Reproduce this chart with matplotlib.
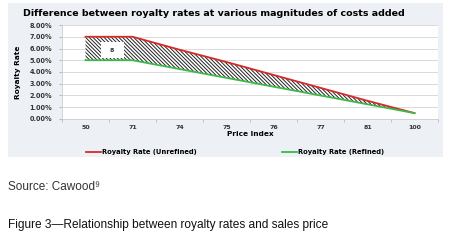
import numpy as np
import matplotlib.pyplot as plt
from matplotlib.patches import Rectangle

# data
price_index = ['50', '71', '74', '75', '76', '77', '81', '100']
unrefined = [7.0, 7.0, 5.9, 4.85, 3.75, 2.65, 1.55, 0.5]
refined = [5.0, 5.0, 4.25, 3.5, 2.75, 2.0, 1.25, 0.5]
y_ticks = [0, 1, 2, 3, 4, 5, 6, 7, 8]
box_label = '8'

plt.rcParams['hatch.linewidth'] = 0.7

fig = plt.figure(figsize=(4.61, 2.44), dpi=100)
fig.patch.set_facecolor('white')

# grey panel behind the chart
panel = Rectangle((8 / 461, 1 - 157 / 244), 435 / 461, 154 / 244,
                  transform=fig.transFigure, facecolor='#edf0f4',
                  edgecolor='none', zorder=-1)
fig.patches.append(panel)

ax = fig.add_axes([62 / 461, 1 - 119 / 244, 376 / 461, 94 / 244])
ax.set_zorder(1)
ax.set_facecolor('white')
x = np.arange(len(price_index))

ax.fill_between(x, refined, unrefined, facecolor='white', edgecolor='#222222',
                hatch='\\' * 9, linewidth=0, zorder=2)
ax.plot(x, unrefined, color='#d62a2a', lw=1.3, zorder=4)
ax.plot(x, refined, color='#3cb84a', lw=1.3, zorder=4)

# white label box inside the hatched area
ax.add_patch(Rectangle((0.32, 5.2), 0.49, 1.35, facecolor='white',
                       edgecolor='none', zorder=3))
ax.text(0.565, 5.85, box_label, ha='center', va='center', fontsize=4.5,
        fontweight='bold', color='#333333', zorder=5)

ax.set_xlim(-0.5, 7.5)
ax.set_ylim(0, 8)
ax.set_yticks(y_ticks)
ax.set_yticklabels(['%.2f%%' % v for v in y_ticks], fontsize=4.7,
                   fontweight='bold', color='#333333')
ax.set_xticks(x)
ax.set_xticklabels(price_index, fontsize=4.5, fontweight='bold', color='#333333')
ax.set_xticks(np.arange(-0.5, 8, 1), minor=True)
ax.tick_params(axis='x', which='major', length=0, pad=4)
ax.tick_params(axis='x', which='minor', length=2, color='#bbbbbb')
ax.tick_params(axis='y', length=2, color='#bbbbbb', pad=5)
ax.grid(axis='y', color='#d4d4d4', lw=0.6, zorder=1)
ax.set_axisbelow(True)
for side in ['top', 'right']:
    ax.spines[side].set_visible(False)
ax.spines['left'].set_color('#cccccc')
ax.spines['bottom'].set_color('#cccccc')
ax.spines['left'].set_linewidth(0.6)
ax.spines['bottom'].set_linewidth(0.6)

ax.set_xlabel('Price Index', fontsize=5.3, fontweight='bold', labelpad=1)
ax.set_ylabel('Royalty Rate', fontsize=5.3, fontweight='bold', labelpad=6)

fig.text(23 / 461, 1 - 13 / 244,
         'Difference between royalty rates at various magnitudes of costs added',
         fontsize=6.8, fontweight='bold', va='center', ha='left')

# legend
ax.plot([], [], color='#d62a2a', lw=1.3, label='Royalty Rate (Unrefined)')
ax.plot([], [], color='#3cb84a', lw=1.3, label='Royalty Rate (Refined)')
leg = fig.legend(loc='center', bbox_to_anchor=(0.51, 1 - 152 / 244), ncol=2,
                 frameon=False, handlelength=2.2,
                 handletextpad=0.1, columnspacing=12.5,
                 prop={'weight': 'bold', 'size': 4.9})

fig.text(8 / 461, 1 - 187 / 244, 'Source: Cawood\u2079', fontsize=8.5,
         family=['Liberation Sans', 'DejaVu Sans'], color='#333333', va='center')
fig.text(8 / 461, 1 - 225 / 244,
         'Figure 3\u2014Relationship between royalty rates and sales price',
         fontsize=8.6, family=['Liberation Sans', 'DejaVu Sans'],
         color='#111111', va='center')

fig.savefig('out.png', dpi=100)
